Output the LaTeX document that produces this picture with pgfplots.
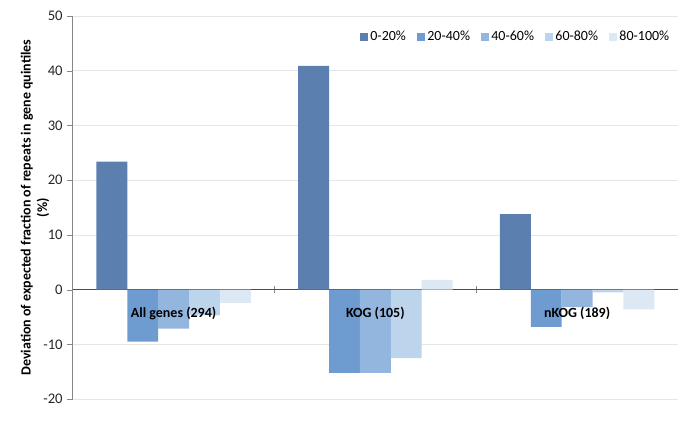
\documentclass[border=0pt]{standalone}
\usepackage{fontspec}
\setmainfont{Carlito}
\usepackage{pgfplots}
\pgfplotsset{compat=1.18}

\definecolor{qA}{HTML}{5B80B0}
\definecolor{qB}{HTML}{6E9BD0}
\definecolor{qC}{HTML}{93B6DE}
\definecolor{qD}{HTML}{BDD4ED}
\definecolor{qE}{HTML}{DCE8F4}
\definecolor{axgray}{HTML}{878787}
\definecolor{gridgray}{HTML}{E6E6E6}

\begin{document}
\begin{tikzpicture}
\begin{axis}[
    name=ax,
    scale only axis,
    width=453.75pt, height=287.25pt,
    ybar=0pt,
    bar width=0.153,
    xmin=-0.5, xmax=2.5,
    ymin=-20, ymax=50,
    ytick={-20,-10,...,50},
    xtick={0,1,2},
    xticklabels={},
    minor xtick={0.5,1.5},
    axis x line=middle,
    axis y line=left,
    axis line style={-, draw=axgray},
    x axis line style={draw=black!70},
    major x tick style={draw=none},
    minor x tick style={draw=axgray},
    minor tick length=5pt,
    ytick style={draw=axgray},
    ytick align=outside,
    major tick length=4pt,
    ymajorgrids,
    grid style={gridgray, line width=0.6pt},
    font=\fontsize{11}{13}\selectfont,
    tick label style={font=\fontsize{11}{13}\selectfont, text=black!85},
    /pgf/number format/assume math mode=true,
    ylabel={Deviation of expected fraction of repeats in gene quintiles\\(\%)},
    every axis y label/.style={at={(rel axis cs:0,0.5)}, rotate=90, anchor=south,
        yshift=14pt, align=center, font=\fontsize{10.5}{12.5}\selectfont\bfseries},
    legend columns=-1,
    legend style={draw=none, fill=none, at={(rel axis cs:0.997,0.975)}, anchor=north east,
                  font=\fontsize{10.5}{12}\selectfont},
    legend image code/.code={\fill[#1, draw=none] (0pt,-3pt) rectangle (6pt,3pt);},
    /tikz/every even column/.append style={column sep=6pt},
    clip=false,
]
\addplot[fill=qA, draw=none] coordinates {(0,23.4) (1,40.9) (2,13.8)};
\addlegendentry{0-20\%}
\addplot[fill=qB, draw=none] coordinates {(0,-9.5) (1,-15.2) (2,-6.8)};
\addlegendentry{20-40\%}
\addplot[fill=qC, draw=none] coordinates {(0,-7.1) (1,-15.2) (2,-3.2)};
\addlegendentry{40-60\%}
\addplot[fill=qD, draw=none] coordinates {(0,-4.7) (1,-12.5) (2,-0.5)};
\addlegendentry{60-80\%}
\addplot[fill=qE, draw=none] coordinates {(0,-2.4) (1,1.8) (2,-3.6)};
\addlegendentry{80-100\%}
% category names sit just under the zero line, over the bars
\foreach \i/\name in {0/All genes (294),1/KOG (105),2/nKOG (189)} {
    \edef\tmp{\noexpand\node[font=\noexpand\fontsize{10.5}{12}\noexpand\selectfont\noexpand\bfseries,
        text=black, yshift=-17.8pt] at (axis cs:\i,0) {\name};}
    \tmp
}
\end{axis}
\path ([xshift=-54.5pt, yshift=-24.75pt]ax.south west) rectangle ([xshift=5.25pt, yshift=12pt]ax.north east);
\end{tikzpicture}
\end{document}
